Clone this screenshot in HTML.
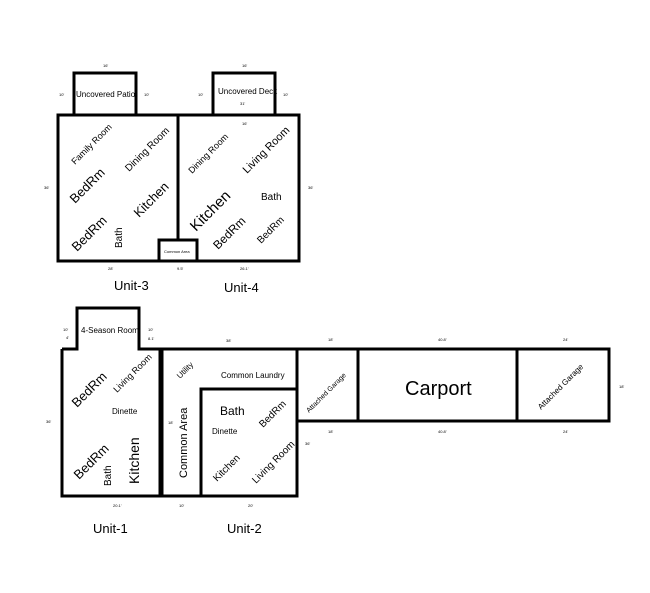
<!DOCTYPE html>
<html><head><meta charset="utf-8"><style>body{margin:0;background:#fff}svg{display:block}text{font-family:"Liberation Sans",sans-serif;fill:#000}.s{font-size:4px}</style></head><body>
<svg width="650" height="593" viewBox="0 0 650 593">
<g fill="none" stroke="#000" stroke-width="3">
<rect x="58" y="115" width="241" height="146"/>
<line x1="178" y1="115" x2="178" y2="241"/>
<polyline points="74,115 74,73 136,73 136,115"/>
<polyline points="213,115 213,73 275,73 275,115"/>
<rect x="159" y="240" width="38" height="21"/>
<polyline points="62,349 77,349 77,308 139,308 139,349 160,349 160,496 62,496 62,349"/>
<rect x="162" y="349" width="135" height="147"/>
<polyline points="201,496 201,389 297,389"/>
<rect x="297" y="349" width="312" height="72"/>
<line x1="358" y1="349" x2="358" y2="421"/>
<line x1="517" y1="349" x2="517" y2="421"/>
</g>
<g font-size="9">
<text x="76" y="97" font-size="8">Uncovered Patio</text>
<text x="218" y="94" font-size="8">Uncovered Deck</text>
<text x="164" y="253" font-size="4">Common Area</text>
<text x="81" y="333" font-size="8">4-Season Room</text>
<text x="221" y="378" font-size="8">Common Laundry</text>
<text x="112" y="414" font-size="8">Dinette</text>
<text x="212" y="434" font-size="8">Dinette</text>
<text x="220" y="415" font-size="12">Bath</text>
<text x="261" y="200" font-size="10">Bath</text>
<text x="405" y="395" font-size="20">Carport</text>
<text x="114" y="290" font-size="13">Unit-3</text>
<text x="224" y="292" font-size="13">Unit-4</text>
<text x="93" y="533" font-size="13">Unit-1</text>
<text x="227" y="533" font-size="13">Unit-2</text>
</g>
<g>
<text transform="translate(75,165) rotate(-45)" font-size="9">Family Room</text>
<text transform="translate(129,172) rotate(-45)" font-size="10">Dining Room</text>
<text transform="translate(75,204) rotate(-45)" font-size="13">BedRm</text>
<text transform="translate(139,218) rotate(-45)" font-size="13">Kitchen</text>
<text transform="translate(77,252) rotate(-45)" font-size="13">BedRm</text>
<text transform="translate(122,248) rotate(-90)" font-size="10">Bath</text>
<text transform="translate(192,174) rotate(-45)" font-size="9">Dining Room</text>
<text transform="translate(247,174) rotate(-45)" font-size="11">Living Room</text>
<text transform="translate(196,232) rotate(-45)" font-size="15">Kitchen</text>
<text transform="translate(218,250) rotate(-45)" font-size="12">BedRm</text>
<text transform="translate(261,244) rotate(-45)" font-size="10">BedRm</text>
<text transform="translate(77,408) rotate(-45)" font-size="13">BedRm</text>
<text transform="translate(117,393) rotate(-45)" font-size="9">Living Room</text>
<text transform="translate(79,480) rotate(-45)" font-size="13">BedRm</text>
<text transform="translate(111,486) rotate(-90)" font-size="10">Bath</text>
<text transform="translate(139,484) rotate(-90)" font-size="14">Kitchen</text>
<text transform="translate(180,379) rotate(-45)" font-size="8">Utility</text>
<text transform="translate(187,478) rotate(-90)" font-size="11">Common Area</text>
<text transform="translate(263,428) rotate(-45)" font-size="10">BedRm</text>
<text transform="translate(217,482) rotate(-45)" font-size="10">Kitchen</text>
<text transform="translate(256,484) rotate(-45)" font-size="10">Living Room</text>
<text transform="translate(309,413) rotate(-45)" font-size="7">Attached Garage</text>
<text transform="translate(541,410) rotate(-45)" font-size="8">Attached Garage</text>
</g>
<g class="s">
<text x="103" y="67" class="s">16'</text><text x="242" y="67" class="s">16'</text>
<text x="59" y="96" class="s">10'</text><text x="144" y="96" class="s">10'</text>
<text x="198" y="96" class="s">10'</text><text x="283" y="96" class="s">10'</text>
<text x="240" y="105" class="s">31'</text><text x="242" y="125" class="s">16'</text>
<text x="44" y="189" class="s">36'</text><text x="308" y="189" class="s">36'</text>
<text x="108" y="270" class="s">28'</text><text x="177" y="270" class="s">9.5'</text><text x="240" y="270" class="s">26.1'</text>
<text x="63" y="331" class="s">10'</text><text x="66" y="339" class="s">4'</text>
<text x="148" y="331" class="s">10'</text><text x="148" y="340" class="s">8.1'</text>
<text x="226" y="342" class="s">38'</text><text x="46" y="423" class="s">36'</text>
<text x="168" y="424" class="s">18'</text><text x="305" y="445" class="s">36'</text>
<text x="113" y="507" class="s">20.1'</text><text x="179" y="507" class="s">10'</text><text x="248" y="507" class="s">20'</text>
<text x="328" y="341" class="s">18'</text><text x="438" y="341" class="s">40.8'</text><text x="563" y="341" class="s">24'</text>
<text x="328" y="433" class="s">18'</text><text x="438" y="433" class="s">40.8'</text><text x="563" y="433" class="s">24'</text>
<text x="619" y="388" class="s">18'</text>
</g>
</svg>
</body></html>
